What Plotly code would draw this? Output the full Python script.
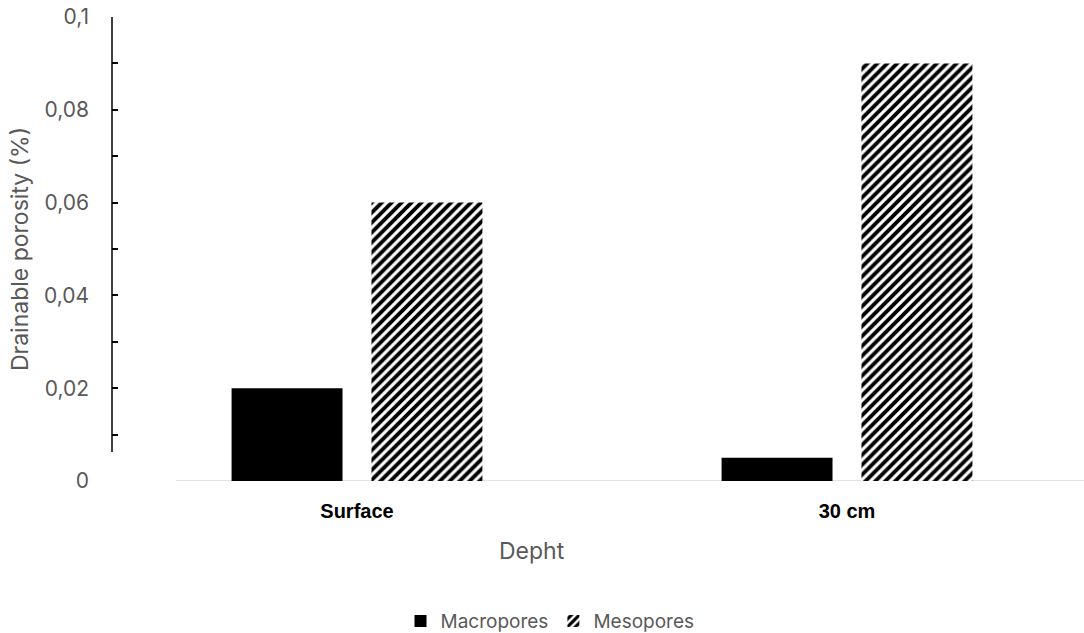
import plotly.graph_objects as go

# Drainable porosity by depth
depths = ["Surface", "30 cm"]
macropores = [0.02, 0.005]
mesopores = [0.06, 0.09]
y_ticks = [0, 0.02, 0.04, 0.06, 0.08, 0.1]
y_tick_labels = ["0", "0,02", "0,04", "0,06", "0,08", "0,1"]

GRAY = "#595959"
FONT = "Inter, Roboto, Arial, sans-serif"

fig = go.Figure()
fig.add_trace(go.Bar(
    name="Macropores", x=depths, y=macropores,
    marker=dict(color="black", line=dict(width=0)),
))
fig.add_trace(go.Bar(
    name="Mesopores", x=depths, y=mesopores,
    marker=dict(color="white", line=dict(width=0),
                pattern=dict(shape="/", fgcolor="black", bgcolor="white",
                             fgopacity=1, size=7, solidity=0.55,
                             fillmode="overlay")),
))

fig.update_layout(
    width=1084, height=633,
    margin=dict(l=112, r=0, t=17, b=152, autoexpand=False),
    plot_bgcolor="white", paper_bgcolor="white",
    barmode="group", bargap=0.429, bargroupgap=0.207,
    font=dict(family=FONT, color=GRAY, size=19),
    showlegend=True,
    legend=dict(orientation="h", x=(550 - 112) / 972, xanchor="center", xref="paper",
                y=-0.302, yanchor="middle", yref="paper",
                font=dict(size=19, color=GRAY), itemwidth=30,
                traceorder="normal"),
    xaxis=dict(
        range=[-0.5, 1.4837], showline=False, showgrid=False, zeroline=False,
        ticks="", tickfont=dict(family="Liberation Sans, Arial, sans-serif",
                                size=20, color="black", weight="bold"),
        ticklabelstandoff=16,
    ),
    yaxis=dict(
        range=[0, 0.1], showgrid=False, zeroline=False, showline=False,
        tickvals=y_ticks, ticktext=y_tick_labels,
        ticks="inside", ticklen=6, tickwidth=1.5, tickcolor="black",
        minor=dict(dtick=0.01, ticks="inside", ticklen=6, tickwidth=1.5,
                   tickcolor="black", showgrid=False),
        tickfont=dict(size=21, color=GRAY),
        ticklabelstandoff=22,
        title=dict(text="Drainable porosity (%)", font=dict(size=23, color=GRAY),
                   standoff=8),
    ),
)

# Category axis baseline (light gray) and value axis spine
fig.add_shape(type="line", xref="paper", yref="y",
              x0=(176 - 112) / 972, x1=1, y0=0, y1=0,
              line=dict(color="#d9d9d9", width=1.5), layer="below")
fig.add_shape(type="line", xref="paper", yref="y",
              x0=0, x1=0, y0=0.00625, y1=0.1,
              line=dict(color="black", width=1.5))

# Horizontal axis title
fig.add_annotation(text="Depht", xref="paper", yref="paper",
                   x=(531.5 - 112) / 972, y=-0.151, yanchor="middle",
                   showarrow=False, font=dict(size=23, color=GRAY))

fig.write_html("out.html")
